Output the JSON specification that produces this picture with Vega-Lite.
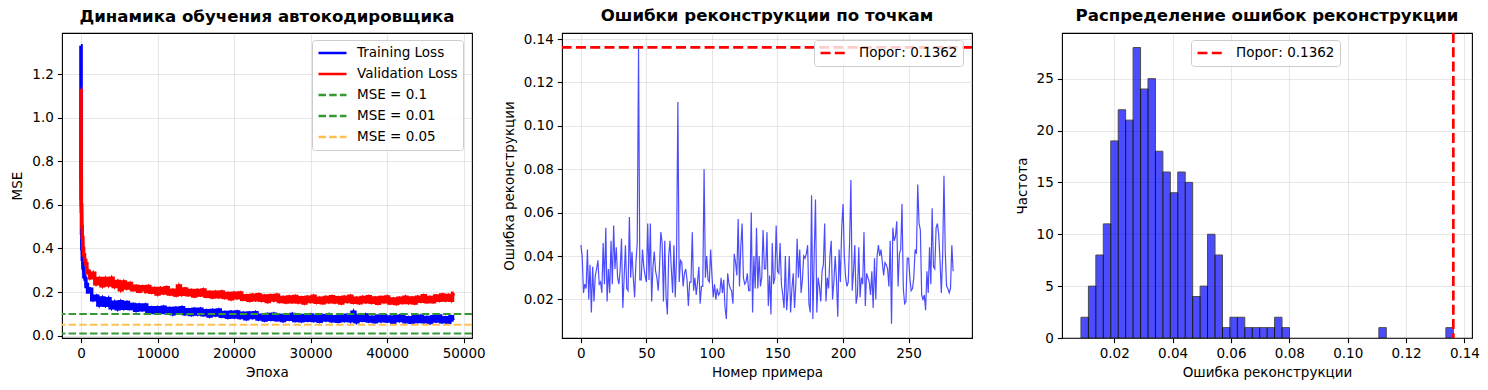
{
  "$schema": "https://vega.github.io/schema/vega-lite/v6.json",
  "padding": {"left": 10, "top": 7, "right": 5, "bottom": 5},
  "background": "white",
  "datasets": {
    "train": [
      {"e":0,"v":1.33,"s":"Training Loss"},{"e":10,"v":0.72,"s":"Training Loss"},{"e":25,"v":0.63,"s":"Training Loss"},{"e":45,"v":0.57,"s":"Training Loss"},{"e":80,"v":0.47,"s":"Training Loss"},{"e":130,"v":0.40,"s":"Training Loss"},{"e":200,"v":0.35,"s":"Training Loss"},{"e":300,"v":0.31,"s":"Training Loss"},{"e":450,"v":0.27,"s":"Training Loss"},{"e":600,"v":0.26,"s":"Training Loss"},{"e":700,"v":0.225,"s":"Training Loss"},{"e":800,"v":0.235,"s":"Training Loss"},{"e":900,"v":0.20,"s":"Training Loss"},{"e":1000,"v":0.215,"s":"Training Loss"},
      {"e":1200,"v":0.213,"s":"Training Loss"},{"e":1600,"v":0.165,"s":"Training Loss"},{"e":2000,"v":0.181,"s":"Training Loss"},{"e":2400,"v":0.141,"s":"Training Loss"},{"e":2800,"v":0.173,"s":"Training Loss"},{"e":3200,"v":0.140,"s":"Training Loss"},{"e":3600,"v":0.170,"s":"Training Loss"},{"e":4000,"v":0.128,"s":"Training Loss"},{"e":4400,"v":0.154,"s":"Training Loss"},{"e":4800,"v":0.123,"s":"Training Loss"},{"e":5200,"v":0.156,"s":"Training Loss"},{"e":5600,"v":0.126,"s":"Training Loss"},{"e":6000,"v":0.152,"s":"Training Loss"},{"e":6400,"v":0.125,"s":"Training Loss"},{"e":6800,"v":0.143,"s":"Training Loss"},{"e":7200,"v":0.116,"s":"Training Loss"},{"e":7600,"v":0.141,"s":"Training Loss"},{"e":8000,"v":0.119,"s":"Training Loss"},{"e":8400,"v":0.141,"s":"Training Loss"},{"e":8800,"v":0.111,"s":"Training Loss"},{"e":9200,"v":0.129,"s":"Training Loss"},{"e":9600,"v":0.106,"s":"Training Loss"},{"e":10000,"v":0.129,"s":"Training Loss"},{"e":10400,"v":0.107,"s":"Training Loss"},{"e":10800,"v":0.131,"s":"Training Loss"},{"e":11200,"v":0.105,"s":"Training Loss"},{"e":11600,"v":0.125,"s":"Training Loss"},{"e":12000,"v":0.100,"s":"Training Loss"},{"e":12400,"v":0.126,"s":"Training Loss"},{"e":12800,"v":0.106,"s":"Training Loss"},{"e":13200,"v":0.129,"s":"Training Loss"},{"e":13600,"v":0.101,"s":"Training Loss"},{"e":14000,"v":0.119,"s":"Training Loss"},{"e":14400,"v":0.097,"s":"Training Loss"},{"e":14800,"v":0.121,"s":"Training Loss"},{"e":15200,"v":0.099,"s":"Training Loss"},{"e":15600,"v":0.122,"s":"Training Loss"},{"e":16000,"v":0.096,"s":"Training Loss"},{"e":16400,"v":0.115,"s":"Training Loss"},{"e":16800,"v":0.090,"s":"Training Loss"},{"e":17200,"v":0.116,"s":"Training Loss"},{"e":17600,"v":0.095,"s":"Training Loss"},{"e":18000,"v":0.118,"s":"Training Loss"},{"e":18400,"v":0.089,"s":"Training Loss"},{"e":18800,"v":0.107,"s":"Training Loss"},{"e":19200,"v":0.084,"s":"Training Loss"},{"e":19600,"v":0.108,"s":"Training Loss"},{"e":20000,"v":0.086,"s":"Training Loss"},{"e":20400,"v":0.109,"s":"Training Loss"},{"e":20800,"v":0.083,"s":"Training Loss"},{"e":21200,"v":0.103,"s":"Training Loss"},{"e":21600,"v":0.078,"s":"Training Loss"},{"e":22000,"v":0.104,"s":"Training Loss"},{"e":22400,"v":0.083,"s":"Training Loss"},{"e":22800,"v":0.106,"s":"Training Loss"},{"e":23200,"v":0.076,"s":"Training Loss"},{"e":23600,"v":0.094,"s":"Training Loss"},{"e":24000,"v":0.072,"s":"Training Loss"},{"e":24400,"v":0.097,"s":"Training Loss"},{"e":24800,"v":0.075,"s":"Training Loss"},{"e":25200,"v":0.099,"s":"Training Loss"},{"e":25600,"v":0.073,"s":"Training Loss"},{"e":26000,"v":0.093,"s":"Training Loss"},{"e":26400,"v":0.069,"s":"Training Loss"},{"e":26800,"v":0.095,"s":"Training Loss"},{"e":27200,"v":0.075,"s":"Training Loss"},{"e":27600,"v":0.098,"s":"Training Loss"},{"e":28000,"v":0.070,"s":"Training Loss"},{"e":28400,"v":0.089,"s":"Training Loss"},{"e":28800,"v":0.068,"s":"Training Loss"},{"e":29200,"v":0.093,"s":"Training Loss"},{"e":29600,"v":0.071,"s":"Training Loss"},{"e":30000,"v":0.095,"s":"Training Loss"},{"e":30400,"v":0.070,"s":"Training Loss"},{"e":30800,"v":0.090,"s":"Training Loss"},{"e":31200,"v":0.066,"s":"Training Loss"},{"e":31600,"v":0.092,"s":"Training Loss"},{"e":32000,"v":0.072,"s":"Training Loss"},{"e":32400,"v":0.096,"s":"Training Loss"},{"e":32800,"v":0.068,"s":"Training Loss"},{"e":33200,"v":0.087,"s":"Training Loss"},{"e":33600,"v":0.066,"s":"Training Loss"},{"e":34000,"v":0.091,"s":"Training Loss"},{"e":34400,"v":0.070,"s":"Training Loss"},{"e":34800,"v":0.094,"s":"Training Loss"},{"e":35200,"v":0.068,"s":"Training Loss"},{"e":35600,"v":0.108,"s":"Training Loss"},{"e":36000,"v":0.064,"s":"Training Loss"},{"e":36400,"v":0.091,"s":"Training Loss"},{"e":36800,"v":0.071,"s":"Training Loss"},{"e":37200,"v":0.095,"s":"Training Loss"},{"e":37600,"v":0.067,"s":"Training Loss"},{"e":38000,"v":0.085,"s":"Training Loss"},{"e":38400,"v":0.064,"s":"Training Loss"},{"e":38800,"v":0.089,"s":"Training Loss"},{"e":39200,"v":0.068,"s":"Training Loss"},{"e":39600,"v":0.092,"s":"Training Loss"},{"e":40000,"v":0.067,"s":"Training Loss"},{"e":40400,"v":0.086,"s":"Training Loss"},{"e":40800,"v":0.062,"s":"Training Loss"},{"e":41200,"v":0.089,"s":"Training Loss"},{"e":41600,"v":0.069,"s":"Training Loss"},{"e":42000,"v":0.093,"s":"Training Loss"},{"e":42400,"v":0.064,"s":"Training Loss"},{"e":42800,"v":0.083,"s":"Training Loss"},{"e":43200,"v":0.062,"s":"Training Loss"},{"e":43600,"v":0.087,"s":"Training Loss"},{"e":44000,"v":0.065,"s":"Training Loss"},{"e":44400,"v":0.089,"s":"Training Loss"},{"e":44800,"v":0.064,"s":"Training Loss"},{"e":45200,"v":0.084,"s":"Training Loss"},{"e":45600,"v":0.060,"s":"Training Loss"},{"e":46000,"v":0.087,"s":"Training Loss"},{"e":46400,"v":0.067,"s":"Training Loss"},{"e":46800,"v":0.091,"s":"Training Loss"},{"e":47200,"v":0.064,"s":"Training Loss"},{"e":47600,"v":0.083,"s":"Training Loss"},{"e":48000,"v":0.062,"s":"Training Loss"},{"e":48400,"v":0.087,"s":"Training Loss"},{"e":48700,"v":0.072,"s":"Training Loss"}
    ],
    "val": [
      {"e":0,"v":1.13,"s":"Validation Loss"},{"e":15,"v":0.90,"s":"Validation Loss"},{"e":35,"v":0.72,"s":"Validation Loss"},{"e":70,"v":0.60,"s":"Validation Loss"},{"e":130,"v":0.50,"s":"Validation Loss"},{"e":200,"v":0.45,"s":"Validation Loss"},{"e":300,"v":0.40,"s":"Validation Loss"},{"e":400,"v":0.37,"s":"Validation Loss"},{"e":550,"v":0.345,"s":"Validation Loss"},{"e":700,"v":0.33,"s":"Validation Loss"},{"e":850,"v":0.29,"s":"Validation Loss"},{"e":1000,"v":0.295,"s":"Validation Loss"},
      {"e":1200,"v":0.266,"s":"Validation Loss"},{"e":1600,"v":0.287,"s":"Validation Loss"},{"e":2000,"v":0.238,"s":"Validation Loss"},{"e":2400,"v":0.262,"s":"Validation Loss"},{"e":2800,"v":0.229,"s":"Validation Loss"},{"e":3200,"v":0.262,"s":"Validation Loss"},{"e":3600,"v":0.232,"s":"Validation Loss"},{"e":4000,"v":0.264,"s":"Validation Loss"},{"e":4400,"v":0.225,"s":"Validation Loss"},{"e":4800,"v":0.249,"s":"Validation Loss"},{"e":5200,"v":0.211,"s":"Validation Loss"},{"e":5600,"v":0.247,"s":"Validation Loss"},{"e":6000,"v":0.218,"s":"Validation Loss"},{"e":6400,"v":0.240,"s":"Validation Loss"},{"e":6800,"v":0.211,"s":"Validation Loss"},{"e":7200,"v":0.227,"s":"Validation Loss"},{"e":7600,"v":0.204,"s":"Validation Loss"},{"e":8000,"v":0.225,"s":"Validation Loss"},{"e":8400,"v":0.203,"s":"Validation Loss"},{"e":8800,"v":0.226,"s":"Validation Loss"},{"e":9200,"v":0.199,"s":"Validation Loss"},{"e":9600,"v":0.217,"s":"Validation Loss"},{"e":10000,"v":0.191,"s":"Validation Loss"},{"e":10400,"v":0.217,"s":"Validation Loss"},{"e":10800,"v":0.196,"s":"Validation Loss"},{"e":11200,"v":0.220,"s":"Validation Loss"},{"e":11600,"v":0.191,"s":"Validation Loss"},{"e":12000,"v":0.209,"s":"Validation Loss"},{"e":12400,"v":0.187,"s":"Validation Loss"},{"e":12800,"v":0.228,"s":"Validation Loss"},{"e":13200,"v":0.190,"s":"Validation Loss"},{"e":13600,"v":0.214,"s":"Validation Loss"},{"e":14000,"v":0.188,"s":"Validation Loss"},{"e":14400,"v":0.207,"s":"Validation Loss"},{"e":14800,"v":0.182,"s":"Validation Loss"},{"e":15200,"v":0.208,"s":"Validation Loss"},{"e":15600,"v":0.187,"s":"Validation Loss"},{"e":16000,"v":0.210,"s":"Validation Loss"},{"e":16400,"v":0.181,"s":"Validation Loss"},{"e":16800,"v":0.199,"s":"Validation Loss"},{"e":17200,"v":0.177,"s":"Validation Loss"},{"e":17600,"v":0.200,"s":"Validation Loss"},{"e":18000,"v":0.178,"s":"Validation Loss"},{"e":18400,"v":0.201,"s":"Validation Loss"},{"e":18800,"v":0.175,"s":"Validation Loss"},{"e":19200,"v":0.194,"s":"Validation Loss"},{"e":19600,"v":0.169,"s":"Validation Loss"},{"e":20000,"v":0.195,"s":"Validation Loss"},{"e":20400,"v":0.174,"s":"Validation Loss"},{"e":20800,"v":0.196,"s":"Validation Loss"},{"e":21200,"v":0.167,"s":"Validation Loss"},{"e":21600,"v":0.184,"s":"Validation Loss"},{"e":22000,"v":0.162,"s":"Validation Loss"},{"e":22400,"v":0.186,"s":"Validation Loss"},{"e":22800,"v":0.165,"s":"Validation Loss"},{"e":23200,"v":0.188,"s":"Validation Loss"},{"e":23600,"v":0.162,"s":"Validation Loss"},{"e":24000,"v":0.182,"s":"Validation Loss"},{"e":24400,"v":0.157,"s":"Validation Loss"},{"e":24800,"v":0.184,"s":"Validation Loss"},{"e":25200,"v":0.163,"s":"Validation Loss"},{"e":25600,"v":0.186,"s":"Validation Loss"},{"e":26000,"v":0.157,"s":"Validation Loss"},{"e":26400,"v":0.176,"s":"Validation Loss"},{"e":26800,"v":0.154,"s":"Validation Loss"},{"e":27200,"v":0.178,"s":"Validation Loss"},{"e":27600,"v":0.156,"s":"Validation Loss"},{"e":28000,"v":0.180,"s":"Validation Loss"},{"e":28400,"v":0.154,"s":"Validation Loss"},{"e":28800,"v":0.174,"s":"Validation Loss"},{"e":29200,"v":0.150,"s":"Validation Loss"},{"e":29600,"v":0.177,"s":"Validation Loss"},{"e":30000,"v":0.157,"s":"Validation Loss"},{"e":30400,"v":0.181,"s":"Validation Loss"},{"e":30800,"v":0.153,"s":"Validation Loss"},{"e":31200,"v":0.172,"s":"Validation Loss"},{"e":31600,"v":0.151,"s":"Validation Loss"},{"e":32000,"v":0.176,"s":"Validation Loss"},{"e":32400,"v":0.155,"s":"Validation Loss"},{"e":32800,"v":0.179,"s":"Validation Loss"},{"e":33200,"v":0.154,"s":"Validation Loss"},{"e":33600,"v":0.174,"s":"Validation Loss"},{"e":34000,"v":0.150,"s":"Validation Loss"},{"e":34400,"v":0.177,"s":"Validation Loss"},{"e":34800,"v":0.157,"s":"Validation Loss"},{"e":35200,"v":0.181,"s":"Validation Loss"},{"e":35600,"v":0.153,"s":"Validation Loss"},{"e":36000,"v":0.172,"s":"Validation Loss"},{"e":36400,"v":0.151,"s":"Validation Loss"},{"e":36800,"v":0.176,"s":"Validation Loss"},{"e":37200,"v":0.155,"s":"Validation Loss"},{"e":37600,"v":0.179,"s":"Validation Loss"},{"e":38000,"v":0.153,"s":"Validation Loss"},{"e":38400,"v":0.173,"s":"Validation Loss"},{"e":38800,"v":0.149,"s":"Validation Loss"},{"e":39200,"v":0.175,"s":"Validation Loss"},{"e":39600,"v":0.155,"s":"Validation Loss"},{"e":40000,"v":0.178,"s":"Validation Loss"},{"e":40400,"v":0.150,"s":"Validation Loss"},{"e":40800,"v":0.169,"s":"Validation Loss"},{"e":41200,"v":0.147,"s":"Validation Loss"},{"e":41600,"v":0.172,"s":"Validation Loss"},{"e":42000,"v":0.152,"s":"Validation Loss"},{"e":42400,"v":0.177,"s":"Validation Loss"},{"e":42800,"v":0.152,"s":"Validation Loss"},{"e":43200,"v":0.173,"s":"Validation Loss"},{"e":43600,"v":0.150,"s":"Validation Loss"},{"e":44000,"v":0.177,"s":"Validation Loss"},{"e":44400,"v":0.158,"s":"Validation Loss"},{"e":44800,"v":0.183,"s":"Validation Loss"},{"e":45200,"v":0.156,"s":"Validation Loss"},{"e":45600,"v":0.176,"s":"Validation Loss"},{"e":46000,"v":0.156,"s":"Validation Loss"},{"e":46400,"v":0.182,"s":"Validation Loss"},{"e":46800,"v":0.162,"s":"Validation Loss"},{"e":47200,"v":0.187,"s":"Validation Loss"},{"e":47600,"v":0.163,"s":"Validation Loss"},{"e":48000,"v":0.185,"s":"Validation Loss"},{"e":48400,"v":0.162,"s":"Validation Loss"},{"e":48700,"v":0.195,"s":"Validation Loss"}
    ],
    "refs": [
      {"y":0.1,"s":"MSE = 0.1"},{"y":0.01,"s":"MSE = 0.01"},{"y":0.05,"s":"MSE = 0.05"}
    ],
    "errs": [
      {"i":0,"v":0.045},{"i":1,"v":0.040},{"i":2,"v":0.023},{"i":3,"v":0.027},{"i":4,"v":0.025},{"i":5,"v":0.043},{"i":6,"v":0.020},{"i":7,"v":0.036},{"i":8,"v":0.014},{"i":9,"v":0.035},
      {"i":10,"v":0.019},{"i":11,"v":0.031},{"i":12,"v":0.034},{"i":13,"v":0.038},{"i":14,"v":0.027},{"i":15,"v":0.028},{"i":16,"v":0.023},{"i":17,"v":0.046},{"i":18,"v":0.027},{"i":19,"v":0.053},
      {"i":20,"v":0.019},{"i":21,"v":0.034},{"i":22,"v":0.023},{"i":23,"v":0.047},{"i":24,"v":0.027},{"i":25,"v":0.054},{"i":26,"v":0.034},{"i":27,"v":0.044},{"i":28,"v":0.030},{"i":29,"v":0.027},
      {"i":30,"v":0.034},{"i":31,"v":0.048},{"i":32,"v":0.016},{"i":33,"v":0.030},{"i":34,"v":0.045},{"i":35,"v":0.025},{"i":36,"v":0.024},{"i":37,"v":0.058},{"i":38,"v":0.030},{"i":39,"v":0.042},
      {"i":40,"v":0.030},{"i":41,"v":0.021},{"i":42,"v":0.037},{"i":43,"v":0.046},{"i":44,"v":0.1362},{"i":45,"v":0.029},{"i":46,"v":0.029},{"i":47,"v":0.043},{"i":48,"v":0.035},{"i":49,"v":0.031},
      {"i":50,"v":0.028},{"i":51,"v":0.055},{"i":52,"v":0.029},{"i":53,"v":0.055},{"i":54,"v":0.019},{"i":55,"v":0.035},{"i":56,"v":0.042},{"i":57,"v":0.033},{"i":58,"v":0.030},{"i":59,"v":0.024},
      {"i":60,"v":0.035},{"i":61,"v":0.051},{"i":62,"v":0.046},{"i":63,"v":0.019},{"i":64,"v":0.047},{"i":65,"v":0.021},{"i":66,"v":0.013},{"i":67,"v":0.040},{"i":68,"v":0.047},{"i":69,"v":0.034},
      {"i":70,"v":0.023},{"i":71,"v":0.045},{"i":72,"v":0.021},{"i":73,"v":0.040},{"i":74,"v":0.111},{"i":75,"v":0.028},{"i":76,"v":0.038},{"i":77,"v":0.037},{"i":78,"v":0.026},{"i":79,"v":0.032},
      {"i":80,"v":0.034},{"i":81,"v":0.029},{"i":82,"v":0.017},{"i":83,"v":0.028},{"i":84,"v":0.028},{"i":85,"v":0.051},{"i":86,"v":0.024},{"i":87,"v":0.030},{"i":88,"v":0.022},{"i":89,"v":0.028},
      {"i":90,"v":0.035},{"i":91,"v":0.018},{"i":92,"v":0.026},{"i":93,"v":0.026},{"i":94,"v":0.080},{"i":95,"v":0.030},{"i":96,"v":0.040},{"i":97,"v":0.029},{"i":98,"v":0.028},{"i":99,"v":0.043},
      {"i":100,"v":0.031},{"i":101,"v":0.021},{"i":102,"v":0.027},{"i":103,"v":0.020},{"i":104,"v":0.025},{"i":105,"v":0.022},{"i":106,"v":0.023},{"i":107,"v":0.030},{"i":108,"v":0.023},{"i":109,"v":0.029},
      {"i":110,"v":0.016},{"i":111,"v":0.011},{"i":112,"v":0.032},{"i":113,"v":0.027},{"i":114,"v":0.025},{"i":115,"v":0.024},{"i":116,"v":0.018},{"i":117,"v":0.041},{"i":118,"v":0.037},{"i":119,"v":0.031},
      {"i":120,"v":0.057},{"i":121,"v":0.026},{"i":122,"v":0.044},{"i":123,"v":0.055},{"i":124,"v":0.030},{"i":125,"v":0.027},{"i":126,"v":0.028},{"i":127,"v":0.032},{"i":128,"v":0.024},{"i":129,"v":0.024},
      {"i":130,"v":0.060},{"i":131,"v":0.014},{"i":132,"v":0.040},{"i":133,"v":0.025},{"i":134,"v":0.053},{"i":135,"v":0.025},{"i":136,"v":0.040},{"i":137,"v":0.026},{"i":138,"v":0.030},{"i":139,"v":0.052},
      {"i":140,"v":0.034},{"i":141,"v":0.034},{"i":142,"v":0.051},{"i":143,"v":0.017},{"i":144,"v":0.031},{"i":145,"v":0.013},{"i":146,"v":0.046},{"i":147,"v":0.027},{"i":148,"v":0.030},{"i":149,"v":0.054},
      {"i":150,"v":0.033},{"i":151,"v":0.032},{"i":152,"v":0.046},{"i":153,"v":0.027},{"i":154,"v":0.022},{"i":155,"v":0.016},{"i":156,"v":0.040},{"i":157,"v":0.015},{"i":158,"v":0.024},{"i":159,"v":0.040},
      {"i":160,"v":0.014},{"i":161,"v":0.025},{"i":162,"v":0.032},{"i":163,"v":0.016},{"i":164,"v":0.027},{"i":165,"v":0.048},{"i":166,"v":0.030},{"i":167,"v":0.043},{"i":168,"v":0.023},{"i":169,"v":0.029},
      {"i":170,"v":0.040},{"i":171,"v":0.039},{"i":172,"v":0.041},{"i":173,"v":0.045},{"i":174,"v":0.018},{"i":175,"v":0.014},{"i":176,"v":0.068},{"i":177,"v":0.011},{"i":178,"v":0.040},{"i":179,"v":0.066},
      {"i":180,"v":0.014},{"i":181,"v":0.030},{"i":182,"v":0.026},{"i":183,"v":0.019},{"i":184,"v":0.033},{"i":185,"v":0.036},{"i":186,"v":0.055},{"i":187,"v":0.019},{"i":188,"v":0.030},{"i":189,"v":0.025},
      {"i":190,"v":0.040},{"i":191,"v":0.047},{"i":192,"v":0.020},{"i":193,"v":0.028},{"i":194,"v":0.040},{"i":195,"v":0.029},{"i":196,"v":0.012},{"i":197,"v":0.043},{"i":198,"v":0.028},{"i":199,"v":0.053},
      {"i":200,"v":0.064},{"i":201,"v":0.040},{"i":202,"v":0.030},{"i":203,"v":0.026},{"i":204,"v":0.028},{"i":205,"v":0.046},{"i":206,"v":0.075},{"i":207,"v":0.024},{"i":208,"v":0.033},{"i":209,"v":0.045},
      {"i":210,"v":0.018},{"i":211,"v":0.022},{"i":212,"v":0.044},{"i":213,"v":0.021},{"i":214,"v":0.030},{"i":215,"v":0.027},{"i":216,"v":0.051},{"i":217,"v":0.017},{"i":218,"v":0.032},{"i":219,"v":0.030},
      {"i":220,"v":0.028},{"i":221,"v":0.022},{"i":222,"v":0.033},{"i":223,"v":0.016},{"i":224,"v":0.039},{"i":225,"v":0.020},{"i":226,"v":0.040},{"i":227,"v":0.045},{"i":228,"v":0.040},{"i":229,"v":0.043},
      {"i":230,"v":0.037},{"i":231,"v":0.031},{"i":232,"v":0.037},{"i":233,"v":0.036},{"i":234,"v":0.034},{"i":235,"v":0.026},{"i":236,"v":0.047},{"i":237,"v":0.0088},{"i":238,"v":0.053},{"i":239,"v":0.047},
      {"i":240,"v":0.049},{"i":241,"v":0.056},{"i":242,"v":0.026},{"i":243,"v":0.041},{"i":244,"v":0.043},{"i":245,"v":0.064},{"i":246,"v":0.025},{"i":247,"v":0.018},{"i":248,"v":0.019},{"i":249,"v":0.039},
      {"i":250,"v":0.039},{"i":251,"v":0.030},{"i":252,"v":0.024},{"i":253,"v":0.025},{"i":254,"v":0.030},{"i":255,"v":0.043},{"i":256,"v":0.041},{"i":257,"v":0.073},{"i":258,"v":0.055},{"i":259,"v":0.052},
      {"i":260,"v":0.022},{"i":261,"v":0.020},{"i":262,"v":0.022},{"i":263,"v":0.015},{"i":264,"v":0.033},{"i":265,"v":0.023},{"i":266,"v":0.044},{"i":267,"v":0.027},{"i":268,"v":0.062},{"i":269,"v":0.035},
      {"i":270,"v":0.034},{"i":271,"v":0.053},{"i":272,"v":0.055},{"i":273,"v":0.050},{"i":274,"v":0.038},{"i":275,"v":0.023},{"i":276,"v":0.040},{"i":277,"v":0.077},{"i":278,"v":0.042},{"i":279,"v":0.026},
      {"i":280,"v":0.025},{"i":281,"v":0.023},{"i":282,"v":0.025},{"i":283,"v":0.045},{"i":284,"v":0.033}
    ],
    "thr": [{"t":0.1362,"s":"Порог: 0.1362"}],
    "hist": [
      {"b0":0.00860,"b1":0.01115,"c":2},{"b0":0.01115,"b1":0.01370,"c":5},{"b0":0.01370,"b1":0.01626,"c":8},{"b0":0.01626,"b1":0.01881,"c":11},{"b0":0.01881,"b1":0.02136,"c":19},
      {"b0":0.02136,"b1":0.02391,"c":22},{"b0":0.02391,"b1":0.02646,"c":21},{"b0":0.02646,"b1":0.02902,"c":28},{"b0":0.02902,"b1":0.03157,"c":24},{"b0":0.03157,"b1":0.03412,"c":25},
      {"b0":0.03412,"b1":0.03667,"c":18},{"b0":0.03667,"b1":0.03922,"c":16},{"b0":0.03922,"b1":0.04178,"c":14},{"b0":0.04178,"b1":0.04433,"c":16},{"b0":0.04433,"b1":0.04688,"c":15},
      {"b0":0.04688,"b1":0.04943,"c":4},{"b0":0.04943,"b1":0.05198,"c":5},{"b0":0.05198,"b1":0.05454,"c":10},{"b0":0.05454,"b1":0.05709,"c":8},{"b0":0.05709,"b1":0.05964,"c":1},
      {"b0":0.05964,"b1":0.06219,"c":2},{"b0":0.06219,"b1":0.06474,"c":2},{"b0":0.06474,"b1":0.06730,"c":1},{"b0":0.06730,"b1":0.06985,"c":1},{"b0":0.06985,"b1":0.07240,"c":1},
      {"b0":0.07240,"b1":0.07495,"c":1},{"b0":0.07495,"b1":0.07750,"c":2},{"b0":0.07750,"b1":0.08006,"c":1},
      {"b0":0.11068,"b1":0.11323,"c":1},{"b0":0.13365,"b1":0.13620,"c":1}
    ]
  },
  "spacing": 90,
  "bounds": "flush",
  "resolve": {
    "scale": {"color": "independent", "strokeDash": "independent"},
    "legend": {"color": "independent", "strokeDash": "independent"}
  },
  "hconcat": [
    {
      "width": 410,
      "height": 305,
      "title": {"text": "Динамика обучения автокодировщика"},
      "layer": [
        {
          "data": {"name": "train"},
          "mark": {"type": "line", "strokeWidth": 2.7, "clip": true},
          "encoding": {
            "x": {"field": "e", "type": "quantitative", "scale": {"domain": [-2480, 51090], "nice": false, "zero": false}, "axis": {"title": "Эпоха", "values": [0, 10000, 20000, 30000, 40000, 50000], "format": "d"}},
            "y": {"field": "v", "type": "quantitative", "scale": {"domain": [-0.0105, 1.388], "nice": false, "zero": false}, "axis": {"title": "MSE", "values": [0, 0.2, 0.4, 0.6, 0.8, 1.0, 1.2], "format": ".1f"}},
            "color": {"field": "s", "type": "nominal", "scale": {"domain": ["Training Loss", "Validation Loss", "MSE = 0.1", "MSE = 0.01", "MSE = 0.05"], "range": ["#0000ff", "#ff0000", "#339933", "#339933", "#ffc04d"]}, "legend": {"title": null, "legendX": 250, "legendY": 7}},
            "strokeDash": {"field": "s", "type": "nominal", "scale": {"domain": ["Training Loss", "Validation Loss", "MSE = 0.1", "MSE = 0.01", "MSE = 0.05"], "range": [[1, 0], [1, 0], [7.5, 3.2], [7.5, 3.2], [7.5, 3.2]]}, "legend": {"title": null, "legendX": 250, "legendY": 7}}
          }
        },
        {
          "data": {"name": "train"},
          "mark": {"type": "line", "strokeWidth": 3.4, "clip": true, "interpolate": "step"},
          "encoding": {
            "x": {"field": "e", "type": "quantitative"},
            "y": {"field": "v", "type": "quantitative"},
            "color": {"field": "s", "type": "nominal"},
            "strokeDash": {"field": "s", "type": "nominal"}
          }
        },
        {
          "data": {"name": "val"},
          "mark": {"type": "line", "strokeWidth": 2.7, "clip": true},
          "encoding": {
            "x": {"field": "e", "type": "quantitative"},
            "y": {"field": "v", "type": "quantitative"},
            "color": {"field": "s", "type": "nominal"},
            "strokeDash": {"field": "s", "type": "nominal"}
          }
        },
        {
          "data": {"name": "val"},
          "mark": {"type": "line", "strokeWidth": 3.4, "clip": true, "interpolate": "step"},
          "encoding": {
            "x": {"field": "e", "type": "quantitative"},
            "y": {"field": "v", "type": "quantitative"},
            "color": {"field": "s", "type": "nominal"},
            "strokeDash": {"field": "s", "type": "nominal"}
          }
        },
        {
          "data": {"name": "refs"},
          "mark": {"type": "rule", "strokeWidth": 2},
          "encoding": {
            "y": {"field": "y", "type": "quantitative"},
            "color": {"field": "s", "type": "nominal"},
            "strokeDash": {"field": "s", "type": "nominal"}
          }
        }
      ]
    },
    {
      "width": 410,
      "height": 305,
      "title": {"text": "Ошибки реконструкции по точкам"},
      "layer": [
        {
          "data": {"name": "errs"},
          "mark": {"type": "line", "color": "#0000ff", "opacity": 0.7, "strokeWidth": 1.2, "clip": true},
          "encoding": {
            "x": {"field": "i", "type": "quantitative", "scale": {"domain": [-14.4, 298.4], "nice": false, "zero": false}, "axis": {"title": "Номер примера", "values": [0, 50, 100, 150, 200, 250], "format": "d"}},
            "y": {"field": "v", "type": "quantitative", "scale": {"domain": [0.0022, 0.1428], "nice": false, "zero": false}, "axis": {"title": "Ошибка реконструкции", "values": [0.02, 0.04, 0.06, 0.08, 0.10, 0.12, 0.14], "format": ".2f"}}
          }
        },
        {
          "data": {"name": "thr"},
          "mark": {"type": "rule", "strokeWidth": 2.7},
          "encoding": {
            "y": {"field": "t", "type": "quantitative"},
            "color": {"field": "s", "type": "nominal", "scale": {"range": ["#ff0000"]}, "legend": {"title": null, "legendX": 252, "legendY": 7}},
            "strokeDash": {"field": "s", "type": "nominal", "scale": {"range": [[10, 4.3]]}, "legend": {"title": null, "legendX": 252, "legendY": 7}}
          }
        }
      ]
    },
    {
      "width": 410,
      "height": 305,
      "title": {"text": "Распределение ошибок реконструкции"},
      "layer": [
        {
          "data": {"name": "hist"},
          "mark": {"type": "bar", "color": "#0000ff", "opacity": 0.7, "stroke": "#000000", "strokeWidth": 1, "clip": true},
          "encoding": {
            "x": {"field": "b0", "type": "quantitative", "scale": {"domain": [0.0021, 0.1426], "nice": false, "zero": false}, "axis": {"title": "Ошибка реконструкции", "values": [0.02, 0.04, 0.06, 0.08, 0.10, 0.12, 0.14], "format": ".2f"}},
            "x2": {"field": "b1"},
            "y": {"field": "c", "type": "quantitative", "scale": {"domain": [0, 29.4], "nice": false}, "axis": {"title": "Частота", "values": [0, 5, 10, 15, 20, 25], "format": "d"}},
            "y2": {"datum": 0}
          }
        },
        {
          "data": {"name": "thr"},
          "mark": {"type": "rule", "strokeWidth": 2.7},
          "encoding": {
            "x": {"field": "t", "type": "quantitative"},
            "color": {"field": "s", "type": "nominal", "scale": {"range": ["#ff0000"]}, "legend": {"title": null, "legendX": 129, "legendY": 7}},
            "strokeDash": {"field": "s", "type": "nominal", "scale": {"range": [[10, 4.3]]}, "legend": {"title": null, "legendX": 129, "legendY": 7}}
          }
        }
      ]
    }
  ],
  "config": {
    "font": "DejaVu Sans",
    "view": {"stroke": "#000000", "strokeWidth": 1.1},
    "axis": {
      "domain": false, "grid": true, "gridColor": "#b0b0b0", "gridOpacity": 0.3, "gridWidth": 1.1,
      "tickColor": "#000000", "tickSize": 4.7, "tickWidth": 1.1, "labelPadding": 4, "labelFontSize": 13.5, "labelColor": "#000000",
      "labelFont": "DejaVu Sans", "titleFont": "DejaVu Sans", "titleFontSize": 13.5, "titleFontWeight": "normal", "titleColor": "#000000",
      "labelFlush": false, "labelOverlap": false, "labelBound": false, "titlePadding": 5
    },
    "axisY": {"titlePadding": 7},
    "title": {"font": "DejaVu Sans", "fontSize": 16.6, "fontWeight": "bold", "color": "#000000", "offset": 7},
    "legend": {
      "orient": "none", "symbolType": "stroke", "symbolSize": 784, "symbolStrokeWidth": 2.5, "clipHeight": 16,
      "labelFontSize": 13.5, "labelFont": "DejaVu Sans", "labelColor": "#000000", "labelOffset": 9,
      "fillColor": "rgba(255,255,255,0.8)", "strokeColor": "#cccccc", "cornerRadius": 3, "padding": 5, "rowPadding": 5
    }
  }
}
